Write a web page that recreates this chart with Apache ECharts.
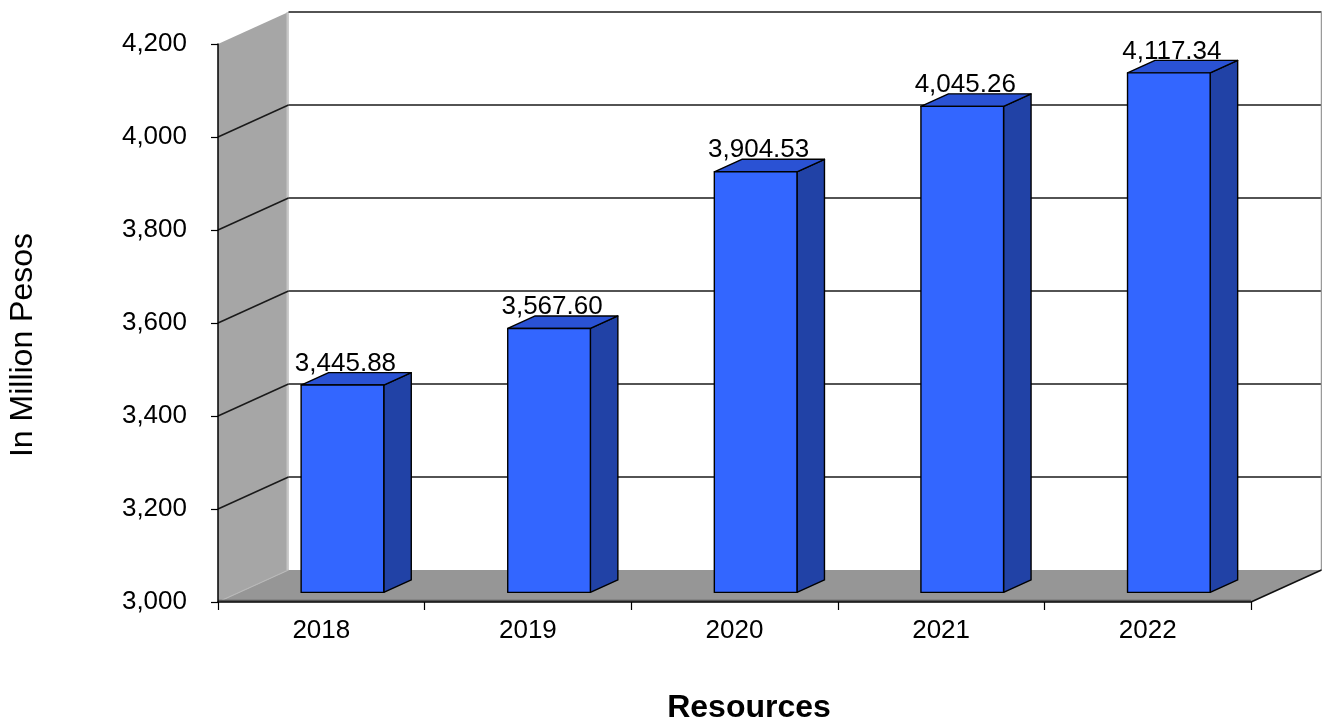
<!DOCTYPE html>
<html>
<head>
<meta charset="utf-8">
<script src="https://cdn.jsdelivr.net/npm/echarts@6/dist/echarts.min.js"></script>
<style>
  html, body { margin: 0; padding: 0; background: #fff; }
  #chart { width: 1322px; height: 725px; }
</style>
</head>
<body>
<div id="chart"></div>
<script>
// Yearly resources, in million pesos
const years = ['2018', '2019', '2020', '2021', '2022'];
const resources = [3445.88, 3567.60, 3904.53, 4045.26, 4117.34];
const yTicks = [3000, 3200, 3400, 3600, 3800, 4000, 4200];

const FONT = '"Liberation Sans", Arial, sans-serif';

// Pseudo-3D box: the back plane sits this many pixels right/up of the front plane
const DEPTH_X = 70.5;
const DEPTH_Y = 32;
// bars occupy this slice of the depth, and this share of a category band
const BAR_NEAR = 0.3;
const BAR_FAR = 0.69;
const BAR_WIDTH = 0.4;

const yMin = yTicks[0];
const yMax = yTicks[yTicks.length - 1];
const yStep = yTicks[1] - yTicks[0];

const fmtValue = v => v.toLocaleString('en-US', { minimumFractionDigits: 2, maximumFractionDigits: 2 });
const fmtTick = v => v.toLocaleString('en-US');

// side wall, back wall grid and floor of the box
function renderRoom(params, api) {
  const band = api.size([1, 0])[0];
  const xl = api.coord([0, yMin])[0] - band / 2;
  const xr = api.coord([years.length - 1, yMin])[0] + band / 2;
  const yb = api.coord([0, yMin])[1];
  const yt = api.coord([0, yMax])[1];
  const bx = xl + DEPTH_X;
  const bxr = xr + DEPTH_X;
  const children = [];

  // left side wall
  children.push({
    type: 'polygon',
    shape: { points: [[xl, yt], [bx, yt - DEPTH_Y], [bx, yb - DEPTH_Y], [xl, yb]] },
    style: { fill: '#a6a6a6' }
  });
  children.push({
    type: 'line',
    shape: { x1: bx - 1, y1: yt - DEPTH_Y, x2: bx - 1, y2: yb - DEPTH_Y },
    style: { stroke: '#c6c6c6', lineWidth: 2 }
  });

  // grid lines: across the back wall and slanting over the side wall
  yTicks.forEach(t => {
    if (t === yMin) return;
    const yf = api.coord([0, t])[1];
    const yk = yf - DEPTH_Y;
    children.push({
      type: 'line',
      shape: { x1: bx, y1: yk, x2: bxr, y2: yk },
      style: { stroke: '#1a1a1a', lineWidth: 1.6 }
    });
    if (t !== yMax) {
      children.push({
        type: 'line',
        shape: { x1: xl, y1: yf, x2: bx, y2: yk },
        style: { stroke: '#1a1a1a', lineWidth: 1.5 }
      });
    }
  });

  // right edge of the back wall
  children.push({
    type: 'line',
    shape: { x1: bxr, y1: yt - DEPTH_Y, x2: bxr, y2: yb - DEPTH_Y },
    style: { stroke: '#9a9a9a', lineWidth: 1.5 }
  });

  // floor
  children.push({
    type: 'polygon',
    shape: { points: [[xl, yb], [xr, yb], [bxr, yb - DEPTH_Y], [bx, yb - DEPTH_Y]] },
    style: { fill: '#969696' }
  });
  children.push({
    type: 'line',
    shape: { x1: xl, y1: yb, x2: bx, y2: yb - DEPTH_Y },
    style: { stroke: '#b8b8b8', lineWidth: 1.2 }
  });
  children.push({
    type: 'line',
    shape: { x1: xr, y1: yb, x2: bxr, y2: yb - DEPTH_Y },
    style: { stroke: '#111', lineWidth: 1.5 }
  });
  children.push({
    type: 'line',
    shape: { x1: xl, y1: yb - 1.5, x2: xr, y2: yb - 1.5 },
    style: { stroke: '#555', lineWidth: 1.5 }
  });

  return { type: 'group', children };
}

// one box-shaped bar with its value label
function renderBar(params, api) {
  const idx = api.value(0);
  const val = api.value(1);
  const band = api.size([1, 0])[0];
  const base = api.coord([idx, yMin]);
  const top = api.coord([idx, val]);
  const w = band * BAR_WIDTH;
  const cx = base[0] + BAR_NEAR * DEPTH_X;
  const left = cx - w / 2;
  const right = cx + w / 2;
  const yBottom = base[1] - BAR_NEAR * DEPTH_Y;
  const yTop = top[1] - BAR_NEAR * DEPTH_Y;
  const dx = (BAR_FAR - BAR_NEAR) * DEPTH_X;
  const dy = (BAR_FAR - BAR_NEAR) * DEPTH_Y;
  const edge = { stroke: '#000', lineWidth: 1.4, lineJoin: 'round' };

  return {
    type: 'group',
    children: [
      {
        type: 'polygon',
        shape: { points: [[right, yBottom], [right + dx, yBottom - dy], [right + dx, yTop - dy], [right, yTop]] },
        style: Object.assign({ fill: '#2142a6' }, edge)
      },
      {
        type: 'polygon',
        shape: { points: [[left, yTop], [right, yTop], [right + dx, yTop - dy], [left + dx, yTop - dy]] },
        style: Object.assign({ fill: '#2a52d4' }, edge)
      },
      {
        type: 'rect',
        shape: { x: left, y: yTop, width: w, height: yBottom - yTop },
        style: Object.assign({ fill: '#3366ff' }, edge)
      },
      {
        type: 'text',
        x: cx + 3,
        y: yTop - dy - 9,
        style: {
          text: fmtValue(val),
          font: '26px ' + FONT,
          fill: '#000',
          align: 'center',
          verticalAlign: 'middle'
        }
      }
    ]
  };
}

const chart = echarts.init(document.getElementById('chart'), null, { renderer: 'canvas' });

chart.setOption({
  animation: false,
  backgroundColor: '#fff',
  grid: {
    left: 218, right: 71, top: 44, bottom: 123,
    containLabel: false,
    outerBoundsMode: 'none'
  },
  xAxis: {
    type: 'category',
    data: years,
    boundaryGap: true,
    z: 10,
    axisLine: { show: true, lineStyle: { color: '#000', width: 1.5 } },
    axisTick: { show: true, length: 8, lineStyle: { color: '#000', width: 1.2 } },
    axisLabel: { color: '#000', fontSize: 26, fontFamily: FONT, margin: 16 },
    splitLine: { show: false }
  },
  yAxis: {
    type: 'value',
    min: yMin,
    max: yMax,
    interval: yStep,
    z: 10,
    axisLine: { show: true, lineStyle: { color: '#000', width: 1.5 } },
    axisTick: { show: true, length: 7, lineStyle: { color: '#000', width: 1.2 } },
    axisLabel: { color: '#000', fontSize: 26, fontFamily: FONT, margin: 31, formatter: fmtTick },
    splitLine: { show: false }
  },
  graphic: [
    {
      type: 'text',
      x: 23, y: 345,
      rotation: Math.PI / 2,
      style: {
        text: 'In Million Pesos',
        font: '32px ' + FONT,
        fill: '#000',
        align: 'center',
        verticalAlign: 'middle'
      }
    },
    {
      type: 'text',
      x: 749, y: 708,
      style: {
        text: 'Resources',
        font: 'bold 32px ' + FONT,
        fill: '#000',
        align: 'center',
        verticalAlign: 'middle'
      }
    }
  ],
  series: [
    {
      type: 'custom',
      name: 'room',
      z: 1,
      clip: false,
      silent: true,
      renderItem: renderRoom,
      data: [[0, yMin]]
    },
    {
      type: 'custom',
      name: 'Resources',
      z: 3,
      clip: false,
      renderItem: renderBar,
      encode: { x: 0, y: 1 },
      data: resources.map((v, i) => [i, v])
    }
  ]
});
</script>
</body>
</html>
